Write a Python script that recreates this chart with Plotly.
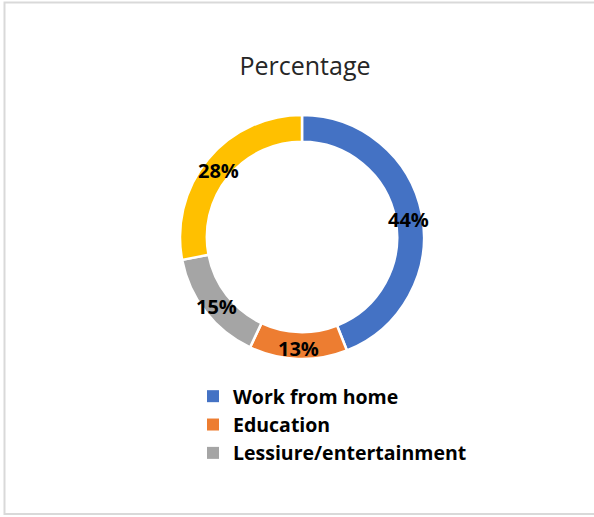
import numpy as np
import plotly.graph_objects as go

# Share of time spent by activity
categories = ["Work from home", "Education", "Lessiure/entertainment", "Other"]
values = [44, 13, 15, 28]
colors = ["#4472C4", "#ED7D31", "#A5A5A5", "#FFC000"]
legend_categories = ["Work from home", "Education", "Lessiure/entertainment"]

W, H = 594, 517
cx, cy, r = 302, 237, 122  # donut centre and outer radius in pixels
hole = 0.78

fig = go.Figure()

fig.add_trace(go.Pie(
    labels=categories,
    values=values,
    sort=False,
    direction="clockwise",
    rotation=0,
    hole=hole,
    marker=dict(colors=colors, line=dict(color="white", width=2.5)),
    textinfo="none",
    domain=dict(x=[(cx - r) / W, (cx + r) / W], y=[1 - (cy + r) / H, 1 - (cy - r) / H]),
    showlegend=False,
    hoverinfo="label+percent",
))

# Value labels centred on the ring at each slice's mid-angle
vals = np.array(values, dtype=float)
ends = np.cumsum(vals) / vals.sum() * 2 * np.pi
mids = ends - vals / vals.sum() * np.pi
ring_r = r * (1 + hole) / 2
annotations = []
for v, a in zip(values, mids):
    px = cx + ring_r * np.sin(a)
    py = cy - ring_r * np.cos(a)
    annotations.append(dict(
        x=px / W, y=1 - py / H, xref="paper", yref="paper",
        text=f"{v}%", showarrow=False, xanchor="center", yanchor="middle",
        yshift=-3,
        font=dict(family="Open Sans", size=20, color="black", weight="bold"),
    ))

# Legend entries drawn as square markers
for i, name in enumerate(legend_categories):
    fig.add_trace(go.Scatter(
        x=[None], y=[None], mode="markers", name=name,
        legendgroup=name,
        marker=dict(symbol="square", size=8, color=colors[i]),
    ))

fig.update_layout(
    width=W, height=H,
    margin=dict(l=0, r=0, t=0, b=0),
    paper_bgcolor="white",
    plot_bgcolor="white",
    title=dict(text="Percentage", x=305 / W, xanchor="center", y=1 - 66 / H, yanchor="middle",
               font=dict(family="Open Sans", size=25, color="#262626")),
    xaxis=dict(visible=False),
    yaxis=dict(visible=False),
    annotations=annotations,
    legend=dict(x=193 / W, y=1 - 377 / H, xanchor="left", yanchor="top",
                font=dict(family="Open Sans", size=19.5, color="black", weight="bold"),
                tracegroupgap=0, itemsizing="constant", bgcolor="rgba(0,0,0,0)"),
    shapes=[dict(type="rect", xref="paper", yref="paper",
                 x0=4.5 / W, x1=1.02, y0=1 - 514 / H, y1=1 - 2.5 / H,
                 line=dict(color="#D9D9D9", width=2))],
)

fig.write_html("out.html")
